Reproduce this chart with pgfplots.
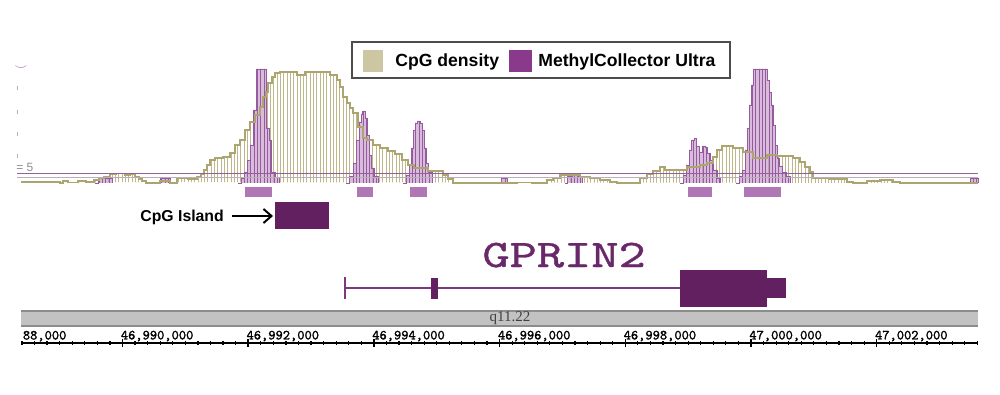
\documentclass[border=0pt]{standalone}
\usepackage{pgfplots}
\pgfplotsset{compat=1.18}
\usepackage{pgfplotstable}
\usepackage{fontspec}
\usepackage{graphicx}
\usetikzlibrary{patterns.meta,arrows.meta}
\newfontfamily\lsans{Liberation Sans}
\newfontfamily\lserif{Liberation Serif}
\newfontfamily\rulerfont[FakeBold=1.6]{lmmono10-regular.otf}
\newfontfamily\genefont[FakeBold=0.8]{lmmono10-regular.otf}
\definecolor{cpgline}{RGB}{172,165,112}
\definecolor{cpgstripe}{RGB}{190,183,138}
\definecolor{mcfill}{RGB}{196,150,200}
\definecolor{mcline}{RGB}{150,90,158}
\definecolor{peakbar}{RGB}{176,118,182}
\definecolor{genedark}{RGB}{98,32,96}
\definecolor{geneline}{RGB}{125,55,125}
\definecolor{genetext}{RGB}{105,40,105}
\definecolor{legtan}{RGB}{205,198,163}
\definecolor{legpurp}{RGB}{138,58,138}
\definecolor{bandgray}{RGB}{194,194,194}
\definecolor{bandedge}{RGB}{140,140,140}
\definecolor{refline}{RGB}{150,95,155}
\definecolor{refline2}{RGB}{185,175,185}

% CpG density track (x = screen position, y = row of bar top; baseline 183)
\pgfplotstableread{
x y
21 182
60 183
63 181
68 182.5
78 181
86 182
94 180
99 178
104 176.5
110 174.5
116 173.5
125 175
130 174.5
135 177
139 179
142 181
146 183
160 181
170 183
177 178.5
188 179
197 177
201 174
204 170
207 165
210 160
215 158
223 157
230 153
235 145
240 140
245 130
250 122
255 115
260 107
263 97
266 92
268 83
272 77
275 73
280 72
297 75
305 72
330 75
337 80
340 87
343 97
347 103
350 108
353 113
358 127
363 138
367 140
373 145
380 148
388 151
395 154
402 160
408 165
414 168
428 171
443 175
448 179
453 183
517 182.5
532 183
547 180
553 178
560 175
580 177
590 178.5
600 180
610 182
617 183
640 178
647 174
653 171
660 167
665 170
687 167
700 165
707 163
713 157
717 150
722 146
733 148
743 152
753 158
767 155
777 156
793 158
800 162
805 167
810 172
813 178
830 179
847 182
853 183
867 181
880 180
893 182
900 183
978 183
}\cpg

\begin{document}
\begin{tikzpicture}
\begin{axis}[
  scale only axis, width=500pt, height=197.5pt,
  xmin=0, xmax=1000, ymin=0, ymax=395, y dir=reverse,
  hide axis, clip=false]
\path (0,0) rectangle (1000,395);

% CpG density stripes
\addplot[const plot, draw=none, pattern={Lines[angle=90,distance=1.65pt,line width=0.45pt]}, pattern color=cpgstripe] table {\cpg};

% MethylCollector Ultra peaks
\pgfplotsset{mcstyle/.style={const plot, draw=mcline, line width=0.3pt, fill=mcfill, fill opacity=0.65,
   postaction={pattern={Lines[angle=90,distance=1.65pt,line width=0.35pt]}, pattern color=mcline}}}
\addplot[mcstyle] coordinates {(238,183) (241,178) (244,172) (247,160) (250,145) (253,110) (256,69) (266,128) (269,140) (271,172) (275,177) (279,183)};
\addplot[mcstyle] coordinates {(346,183) (349,176) (353,163) (356,140) (359,122) (361,114) (362,111) (365,118) (367,135) (369,155) (371,168) (374,176) (378,183)};
\addplot[mcstyle] coordinates {(403,183) (406,175) (409,165) (411,148) (413,130) (415,123) (417,121) (420,123) (422,130) (424,148) (426,163) (428,172) (432,183)};
\addplot[mcstyle] coordinates {(680,183) (683,175) (686,165) (689,150) (691,140) (694,138) (696,146) (699,152) (702,146) (705,147) (707,153) (710,160) (713,170) (717,178) (720,183)};
\addplot[mcstyle] coordinates {(736,183) (739,176) (742,170) (745,150) (747,128) (749,105) (751,85) (753,69) (767,80) (769,92) (771,105) (773,125) (775,145) (777,158) (779,166) (782,172) (786,176) (790,183)};
\addplot[mcstyle] coordinates {(95,183) (98,178.5) (112,183)};
\addplot[mcstyle] coordinates {(158,183) (160,178) (170,183)};
\addplot[mcstyle] coordinates {(565,183) (567,176) (572,174) (578,177) (582,183)};
\addplot[mcstyle] coordinates {(500,183) (501,178) (507,183)};
\addplot[mcstyle] coordinates {(968,183) (970,178) (978,183)};

% CpG outline
\addplot[const plot, draw=cpgline, line width=0.55pt] table {\cpg};

% reference lines
\draw[refline, line width=0.55pt] (17,173.3) -- (978,173.3);
\draw[refline2, line width=0.5pt] (17,178) -- (978,178);
\draw[refline2, line width=0.5pt] (17,86) -- (17,90);
\draw[refline2, line width=0.5pt] (17,110) -- (17,114);
\draw[refline2, line width=0.5pt] (17,132) -- (17,136);
\draw[refline2, line width=0.5pt] (17,154) -- (17,158);
\node[inner sep=0, text=refline, font=\tiny] at (21,68) {$\smile$};
\node[anchor=base west, inner sep=0, text=black!45, font=\lsans\fontsize{6}{6}\selectfont] at (16,172) {= 5};

% peak calls
\addplot[fill=peakbar, draw=none] coordinates {(245,187) (272,187) (272,197) (245,197)};
\addplot[fill=peakbar, draw=none] coordinates {(357,187) (373,187) (373,197) (357,197)};
\addplot[fill=peakbar, draw=none] coordinates {(410,187) (427,187) (427,197) (410,197)};
\addplot[fill=peakbar, draw=none] coordinates {(688,187) (712,187) (712,197) (688,197)};
\addplot[fill=peakbar, draw=none] coordinates {(744,187) (781,187) (781,197) (744,197)};

% CpG island
\addplot[fill=genedark, draw=none] coordinates {(275,202) (329,202) (329,229) (275,229)};
\node[anchor=base west, inner sep=0, font=\lsans\bfseries\fontsize{7.9}{9}\selectfont] at (140,221) {CpG Island};
\draw[line width=1pt, -{Straight Barb[length=4pt,width=7pt,line width=1pt]}] (232,216) -- (273,216);

% gene model
\node[anchor=base west, inner sep=0, text=genetext] at (482,267) {\scalebox{1.33}[1]{\genefont\fontsize{19.5}{24}\selectfont GPRIN2}};
\addplot[geneline, line width=0.75pt] coordinates {(345,288) (680,288)};
\addplot[geneline, line width=1pt] coordinates {(345,277) (345,299)};
\addplot[fill=genedark, draw=none] coordinates {(431,278) (438,278) (438,299) (431,299)};
\addplot[fill=genedark, draw=none] coordinates {(680,270) (767,270) (767,307) (680,307)};
\addplot[fill=genedark, draw=none] coordinates {(767,278) (786,278) (786,298) (767,298)};

% cytoband
\fill[bandgray] (21,311) rectangle (978,326);
\draw[bandedge, line width=0.8pt] (21,311) -- (978,311);
\draw[bandedge, line width=0.8pt] (21,326) -- (978,326);
\node[inner sep=0, text=black!75, font=\lserif\fontsize{7.5}{8}\selectfont] at (510,318) {q11.22};

% partial ruler label at left edge
\node[anchor=base west, inner sep=0, font=\rulerfont\fontsize{6.9}{7}\selectfont] at (22.5,339.5) {88,000};

% legend
\draw[draw=black!70, line width=0.6pt, fill=white] (352,42) rectangle (730,78);
\fill[legtan] (363,50) rectangle (383,72);
\fill[legpurp] (509,50) rectangle (532,72);
\node[anchor=base west, inner sep=0, font=\lsans\bfseries\fontsize{8.8}{10}\selectfont] at (395,67) {CpG density};
\node[anchor=base west, inner sep=0, font=\lsans\bfseries\fontsize{8.8}{10}\selectfont] at (538,67) {MethylCollector Ultra};
\end{axis}

% genomic ruler (kb relative to 46,990,000)
\begin{axis}[
  at={(10.5pt,26pt)}, anchor=south west,
  scale only axis, width=478.5pt, height=1pt,
  xmin=-1.615, xmax=13.612, ymin=0, ymax=1,
  axis x line=bottom, axis y line=none,
  axis line style={-, line width=0.75pt, black},
  xtick={0,2,...,12},
  minor xtick={-1.6,-1.4,...,13.6},
  tick align=center, major tick length=4pt, minor tick length=2pt,
  every major tick/.style={line width=0.75pt, black},
  every minor tick/.style={line width=0.6pt, black},
  xticklabels={{46,990,000},{46,992,000},{46,994,000},{46,996,000},{46,998,000},{47,000,000},{47,002,000}},
  xticklabel style={anchor=base west, inner sep=0pt, xshift=-1pt, yshift=3.8pt, font=\rulerfont\fontsize{6.9}{7}\selectfont},
]
\addplot[draw=none] coordinates {(0,0)};
\end{axis}
\end{tikzpicture}
\end{document}
